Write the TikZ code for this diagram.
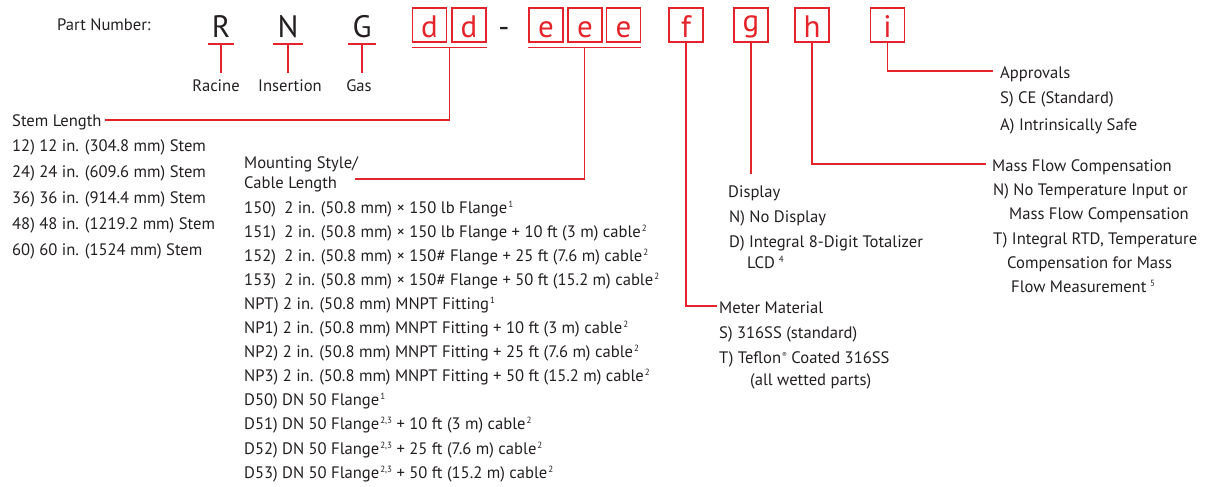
\documentclass[tikz,border=0pt]{standalone}
\usepackage{fontspec}
\setmainfont{PT Sans}
\usepackage{tikz}
\usetikzlibrary{calc}
\definecolor{codered}{RGB}{228,36,42}
\definecolor{inkgray}{RGB}{35,31,32}
\newcommand\fnote[1]{\kern1pt\raisebox{0.36em}{\fontsize{9}{9}\selectfont #1}}

\begin{document}
\begin{tikzpicture}[
    x=1pt, y=-1pt,
    every node/.style={text=inkgray, inner sep=0pt},
    label/.style={anchor=base west, font=\fontsize{16.6}{20}\selectfont},
    partletter/.style={anchor=base, inner xsep=4pt, font=\fontsize{31}{31}\selectfont},
    codebox/.style={
        anchor=base, draw=codered, line width=1.2pt, text=codered,
        minimum width=34pt, text height=30pt, text depth=4pt,
        font=\fontsize{31}{31}\selectfont
    },
    redline/.style={draw=codered, line width=1.2pt}
]
    \path[use as bounding box] (0,0) rectangle (1207,487);

    % part number header
    \node[label] (partno) at (57,31) {Part Number:};
    \node[partletter] (R) at (221,38) {R};
    \node[partletter] (N) at (288,38) {N};
    \node[partletter] (G) at (362,38) {G};
    \node[codebox] (d1) at (429.5,38) {d};
    \node[codebox] (d2) at (469,38) {d};
    \node[partletter] (dash) at (504,38) {-};
    \node[codebox] (e1) at (546,38) {e};
    \node[codebox] (e2) at (585,38) {e};
    \node[codebox] (e3) at (623.5,38) {e};
    \node[codebox] (f) at (686,38) {f};
    \node[codebox] (g) at (751,38) {\raisebox{6pt}{g}};
    \node[codebox] (h) at (812,38) {h};
    \node[codebox] (i) at (887.5,38) {i};

    % R, N, G captions
    \node[label, anchor=base] (racine) at (216,92) {Racine};
    \node[label, anchor=base] (insertion) at (290,92) {Insertion};
    \node[label, anchor=base] (gas) at (359,92) {Gas};
    \foreach \ltr/\cap in {R/racine, N/insertion, G/gas} {
        \draw[redline] ([yshift=-6pt]\ltr.base west) -- coordinate[midway] (\ltr mid) ([yshift=-6pt]\ltr.base east);
        \draw[redline, shorten >=7pt] (\ltr mid) -- (\ltr mid |- \cap.north);
    }

    % stem length
    \node[label] (stemhead) at (12,126) {Stem Length};
    \foreach \txt [count=\k] in {
        {12) 12 in. (304.8 mm) Stem},
        {24) 24 in. (609.6 mm) Stem},
        {36) 36 in. (914.4 mm) Stem},
        {48) 48 in. (1219.2 mm) Stem},
        {60) 60 in. (1524 mm) Stem}}
        \node[label] (stem-\k) at (12,{151+26*(\k-1)}) {\txt};
    \draw[redline] ([yshift=-5pt]d1.south west) -- coordinate[midway] (ddmid) ([yshift=-5pt]d2.south east);
    \draw[redline] (ddmid) |- ([shift={(3pt,6pt)}]stemhead.base east);

    % mounting style / cable length
    \node[label] (mounthead) at (244,168) {Mounting Style/};
    \node[label] (cablehead) at (244,188) {Cable Length};
    \foreach \txt [count=\k] in {
        {150)\enspace 2 in. (50.8 mm) × 150 lb Flange\fnote{1}},
        {151)\enspace 2 in. (50.8 mm) × 150 lb Flange + 10 ft (3 m) cable\fnote{2}},
        {152)\enspace 2 in. (50.8 mm) × 150\# Flange + 25 ft (7.6 m) cable\fnote{2}},
        {153)\enspace 2 in. (50.8 mm) × 150\# Flange + 50 ft (15.2 m) cable\fnote{2}},
        {NPT) 2 in. (50.8 mm) MNPT Fitting\fnote{1}},
        {NP1) 2 in. (50.8 mm) MNPT Fitting + 10 ft (3 m) cable\fnote{2}},
        {NP2) 2 in. (50.8 mm) MNPT Fitting + 25 ft (7.6 m) cable\fnote{2}},
        {NP3) 2 in. (50.8 mm) MNPT Fitting + 50 ft (15.2 m) cable\fnote{2}},
        {D50) DN 50 Flange\fnote{1}},
        {D51) DN 50 Flange\fnote{2,3} + 10 ft (3 m) cable\fnote{2}},
        {D52) DN 50 Flange\fnote{2,3} + 25 ft (7.6 m) cable\fnote{2}},
        {D53) DN 50 Flange\fnote{2,3} + 50 ft (15.2 m) cable\fnote{2}}}
        \node[label] (mount-\k) at (244,{213+24.1*(\k-1)}) {\txt};
    \draw[redline] ([yshift=-5pt]e1.south west) -- coordinate[midway] (eemid) ([yshift=-5pt]e3.south east);
    \draw[redline] (eemid) |- ([shift={(18pt,9pt)}]cablehead.base east);

    % meter material
    \node[label] (metal) at (719,313) {Meter Material};
    \node[label] (metal-1) at (719,338) {S) 316SS (standard)};
    \node[label] (metal-2) at (719,363) {T) Teflon\fnote{\fontsize{7}{7}\selectfont ®} Coated 316SS};
    \node[label] (metal-3) at (750,385) {(all wetted parts)};
    \draw[redline] (f.south) |- ([shift={(-2pt,7pt)}]metal.base west);

    % display
    \node[label] (display) at (728,197) {Display};
    \node[label] (display-1) at (729,222) {N) No Display};
    \node[label] (display-2) at (729,247) {D) Integral 8-Digit Totalizer};
    \node[label] (display-3) at (747,268) {LCD\,\fnote{4}};
    \draw[redline, shorten >=11pt] (g.south) -- (g.south |- display.north);

    % mass flow compensation
    \node[label] (massflow) at (992,171) {Mass Flow Compensation};
    \foreach \px/\py/\txt [count=\k] in {
        993/195/{N) No Temperature Input or},
        1009/219/{Mass Flow Compensation},
        993/244/{T) Integral RTD, Temperature},
        1007/268/{Compensation for Mass},
        1011/292/{Flow Measurement\,\fnote{5}}}
        \node[label] (massflow-\k) at (\px,\py) {\txt};
    \draw[redline] (h.south) |- ([shift={(-6pt,7pt)}]massflow.base west);

    % approvals
    \node[label] (approvals) at (1000,78) {Approvals};
    \node[label] (approvals-1) at (1000,103) {S) CE (Standard)};
    \node[label] (approvals-2) at (1000,130) {A) Intrinsically Safe};
    \draw[redline] (i.south) |- ([shift={(-7pt,7pt)}]approvals.base west);
\end{tikzpicture}
\end{document}
